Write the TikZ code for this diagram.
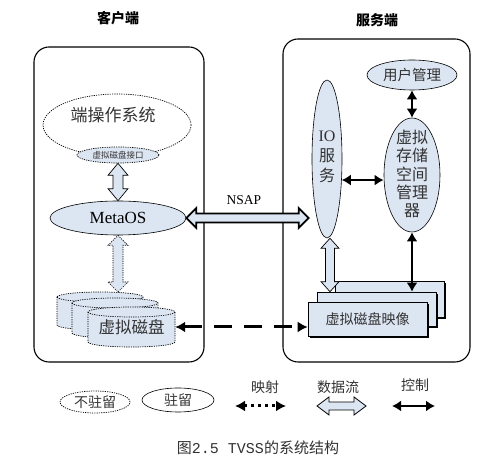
\documentclass[tikz,border=0pt]{standalone}
\usepackage{fontspec}
\setmainfont{Liberation Serif}
\newfontfamily\cjk{Noto Sans CJK SC}
\newfontfamily\cmono{Liberation Mono}
\usetikzlibrary{calc,arrows.meta,shapes.geometric,shadows}
\definecolor{lb}{RGB}{220,229,242}
\definecolor{tx}{RGB}{50,50,50}
% hollow double arrow: [style]{from}{to}{half head width}{half shaft width}{head length}
\newcommand\harrow[6][]{%
  \coordinate (hP) at ($(#2)!#6!(#3)$);
  \coordinate (hQ) at ($(#3)!#6!(#2)$);
  \filldraw[fill=lb,#1] (#2) -- ($(hP)!#4!90:(#3)$) -- ($(hP)!#5!90:(#3)$)
    -- ($(hQ)!#5!-90:(#2)$) -- ($(hQ)!#4!-90:(#2)$) -- (#3)
    -- ($(hQ)!#4!90:(#2)$) -- ($(hQ)!#5!90:(#2)$)
    -- ($(hP)!#5!-90:(#3)$) -- ($(hP)!#4!-90:(#3)$) -- cycle;
}
% disk cylinder: {xc}{rx}{top y}{bottom y}{ry}
\newcommand\diskcyl[5]{%
  \filldraw[fill=lb,dotline] (#1-#2,#3) -- (#1-#2,#4)
    arc[start angle=180,end angle=360,x radius=#2,y radius=#5]
    -- (#1+#2,#3) arc[start angle=0,end angle=180,x radius=#2,y radius=#5] -- cycle;
  \draw[dotline] (#1-#2,#3) arc[start angle=180,end angle=360,x radius=#2,y radius=#5];
}
\tikzset{
  dotline/.style={line width=0.7pt,dash pattern=on 1.2pt off 1.1pt},
  ell/.style={ellipse,inner sep=0pt},
  box/.style={draw,line width=1.1pt,rounded corners=15pt,inner sep=0pt},
  imgbox/.style={draw,fill=lb,line width=0.6pt,inner sep=0pt,
    drop shadow={shadow xshift=2pt,shadow yshift=-2pt,fill=black,opacity=1}},
  ctrl/.style={line width=2.8pt,{Latex[length=9pt,width=11pt]}-{Latex[length=9pt,width=11pt]}},
  mapping/.style={line width=3pt,dash pattern=on 18pt off 12pt,
    {Latex[length=10pt,width=11pt]}-{Latex[length=10pt,width=11pt]}},
  cjkt/.style={font=\cjk\fontsize{#1}{#1}\selectfont,text=tx},
}
\begin{document}
\begin{tikzpicture}[x=1pt,y=1pt]
\useasboundingbox (0,0) rectangle (493,463);
% titles
\node[font=\cjk\bfseries\fontsize{14}{14}\selectfont] (tclient) at (118,445) {客户端};
\node[font=\cjk\bfseries\fontsize{14}{14}\selectfont] (tserver) at (377,443) {服务端};
% containers
\node[box,minimum width=170pt,minimum height=315pt] (client) at (119,258.5) {};
\node[box,minimum width=187pt,minimum height=323pt] (server) at (376.5,262.5) {};
% client side
\node[ell,dotline,draw,minimum width=148pt,minimum height=62pt] (os) at (117,338) {};
\node[cjkt=17] (ostext) at (113,348) {端操作系统};
\node[ell,dotline,draw,fill=lb,minimum width=82pt,minimum height=16pt,cjkt=8.5] (vdi) at (118,308) {虚拟磁盘接口};
\node[ell,draw,fill=lb,line width=0.6pt,minimum width=136pt,minimum height=34pt,
  font=\fontsize{17}{17}\selectfont] (meta) at (118,245) {MetaOS};
\harrow[line width=0.7pt]{vdi.south}{meta.north}{10pt}{5pt}{12pt}
% disks
\diskcyl{100}{43}{166}{138}{5}
\diskcyl{115}{43}{160}{130}{5}
\diskcyl{131.5}{43.5}{151}{121}{5}
\node[cjkt=16.5,minimum width=87pt,inner sep=0pt] (disk3) at (131.5,136) {虚拟磁盘};
\coordinate (disk1top) at (100,171);
\coordinate (mdb) at (meta.south |- disk1top);
\harrow[dotline]{meta.south}{mdb}{10pt}{5pt}{10pt}
% server side
\node[ell,draw,fill=lb,line width=0.6pt,minimum width=30pt,minimum height=158pt] (io) at (327,304) {};
\node[align=center,font=\fontsize{16}{20}\selectfont,text=tx] (iotext) at (327,306) {IO\\{\cjk 服}\\{\cjk 务}};
\node[ell,draw,fill=lb,line width=0.6pt,minimum width=90pt,minimum height=30pt,cjkt=14.5] (user) at (412,388) {用户管理};
\node[ell,draw,fill=lb,line width=0.6pt,minimum width=56pt,minimum height=114pt] (vsm) at (412,288) {};
\node[align=center,cjkt=16,font=\cjk\fontsize{16}{18.3}\selectfont] (vsmtext) at (412,289) {虚拟\\存储\\空间\\管理\\器};
\node[imgbox,minimum width=109pt,minimum height=36pt] (img3) at (389.5,164) {};
\node[imgbox,minimum width=119pt,minimum height=34pt] (img2) at (376.5,154) {};
\node[imgbox,minimum width=119pt,minimum height=34pt,cjkt=14] (img1) at (367.5,144) {虚拟磁盘映像};
% connectors
\draw[ctrl] (user.south) -- (vsm.north);
\coordinate (ioe) at (io.-55);
\draw[ctrl] (ioe) -- (ioe -| vsm.west);
\draw[ctrl] (vsm.south) -- (vsm.south |- img2.north);
\coordinate (ioa) at ([xshift=3pt]io.south);
\coordinate (iob) at (ioa |- img2.north);
\harrow[line width=0.7pt]{ioa}{iob}{9pt}{4.5pt}{10pt}
\coordinate (nsapend) at ([xshift=-3pt]meta.east -| io.west);
\harrow[line width=1.8pt]{meta.east}{nsapend}{10pt}{4.5pt}{10pt}
\node[font=\fontsize{13.5}{13.5}\selectfont] (nsap) at (244,263) {NSAP};
\draw[mapping] (disk3.east) -- (disk3.east -| img1.west);
% legend
\node[ell,draw,dotline,minimum width=70pt,minimum height=22pt,cjkt=14] (lg1) at (95,61) {不驻留};
\node[ell,draw,line width=0.6pt,minimum width=72pt,minimum height=24pt,cjkt=14] (lg2) at (178,63) {驻留};
\node[cjkt=14] (lt1) at (265,76) {映射};
\node[cjkt=14] (lt2) at (338,76) {数据流};
\node[cjkt=14] (lt3) at (415,78) {控制};
\coordinate (m1) at (235,57); \coordinate (m2) at (286,57);
\coordinate (d1) at (317,57); \coordinate (d2) at (366,57);
\coordinate (c1) at (392,57); \coordinate (c2) at (435,57);
\draw[line width=3pt,dash pattern=on 3pt off 4pt,
  {Latex[length=10pt,width=11pt]}-{Latex[length=10pt,width=11pt]}] (m1) -- (m2);
\harrow[line width=0.8pt]{d1}{d2}{9pt}{4pt}{12pt}
\draw[ctrl] (c1) -- (c2);
% caption
\node[font=\fontsize{15}{15}\selectfont,text=tx] (caption) at (258,15) {{\cjk 图}{\cmono 2.5 TVSS}{\cjk 的系统结构}};
\end{tikzpicture}
\end{document}
